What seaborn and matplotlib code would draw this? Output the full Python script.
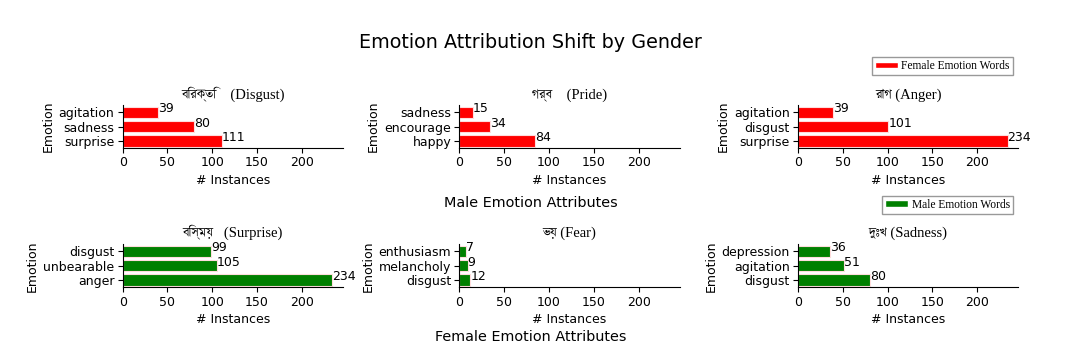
import matplotlib
matplotlib.use("Agg")
import matplotlib.pyplot as plt
import seaborn as sns
import pandas as pd
from matplotlib import font_manager
from matplotlib.patches import Patch

# Top row (red) panels
female_titles = [("বিরক্তি", "(Disgust)", "    "), ("গর্ব", "(Pride)", "    "), ("রাগ", "(Anger)", " ")]
female_labels = [["agitation", "sadness", "surprise"],
                 ["sadness", "encourage", "happy"],
                 ["agitation", "disgust", "surprise"]]
female_counts = [[39, 80, 111],
                 [15, 34, 84],
                 [39, 101, 234]]

# Bottom row (green) panels
male_titles = [("বিস্ময়", "(Surprise)", "   "), ("ভয়", "(Fear)", " "), ("দুঃখ", "(Sadness)", " ")]
male_labels = [["disgust", "unbearable", "anger"],
               ["enthusiasm", "melancholy", "disgust"],
               ["depression", "agitation", "disgust"]]
male_counts = [[99, 105, 234],
               [7, 9, 12],
               [36, 51, 80]]

sns.set_style("ticks", {"text.color": "black", "axes.labelcolor": "black",
                        "xtick.color": "black", "ytick.color": "black",
                        "axes.edgecolor": "black"})

# look for any installed font that can draw Bengali
bn_fonts = []
for f in font_manager.fontManager.ttflist:
    if any(k in f.name for k in ("Bengali", "Lohit", "Mukti", "FreeSerif", "Akaash", "Kalpurush", "Siyam")):
        if f.name not in bn_fonts:
            bn_fonts.append(f.name)
title_family = ["Liberation Serif"] + bn_fonts + ["DejaVu Sans"]

fs = 9.0
fig = plt.figure(figsize=(10.85, 3.56), dpi=100)
fig.text(0.489, 0.882, "Emotion Attribution Shift by Gender", ha="center", va="center", fontsize=13.8)

lefts = [0.1131, 0.4235, 0.7355]
width = 0.2028
xmax = 245.7


def draw_panel(ax, labels, counts, color, title):
    df = pd.DataFrame({"Emotion": labels, "Count": counts})
    sns.barplot(data=df, x="Count", y="Emotion", orient="h", color=color,
                saturation=1, width=0.8, edgecolor="#ffdddd", linewidth=0.8, ax=ax)
    for i, v in enumerate(counts):
        ax.text(v, i, str(v), fontsize=fs)
    ax.set_xlim(0, xmax)
    ax.set_xticks([0, 50, 100, 150, 200])
    ax.set_xlabel("# Instances", fontsize=fs, labelpad=3)
    ax.set_ylabel("Emotion", fontsize=fs, labelpad=3)
    ax.tick_params(labelsize=fs, length=3.5, pad=2.5)
    bn, en, gap = title
    ax.set_title(bn + gap + en, fontsize=10.5, family=title_family, pad=5)
    sns.despine(ax=ax)


for j in range(3):
    ax = fig.add_axes([lefts[j], 0.584, width, 0.12])
    draw_panel(ax, female_labels[j], female_counts[j], "red", female_titles[j])
for j in range(3):
    ax = fig.add_axes([lefts[j], 0.193, width, 0.121])
    draw_panel(ax, male_labels[j], male_counts[j], "green", male_titles[j])

fig.text(0.489, 0.43, "Male Emotion Attributes", ha="center", va="center", fontsize=10.4)
fig.text(0.489, 0.052, "Female Emotion Attributes", ha="center", va="center", fontsize=10.4)

leg_font = {"family": "Liberation Serif", "size": 8.3}
leg_kw = dict(loc="center right", prop=leg_font, fancybox=False, edgecolor="#999999",
              framealpha=1, handlelength=2.0, handleheight=0.45, borderpad=0.25, handletextpad=0.3)
fig.legend([Patch(facecolor="red")], ["Female Emotion Words"],
           bbox_to_anchor=(0.9385, 0.815), **leg_kw)
fig.legend([Patch(facecolor="green")], ["Male Emotion Words"],
           bbox_to_anchor=(0.9385, 0.425), **leg_kw)

fig.savefig("out.png", dpi=100)
